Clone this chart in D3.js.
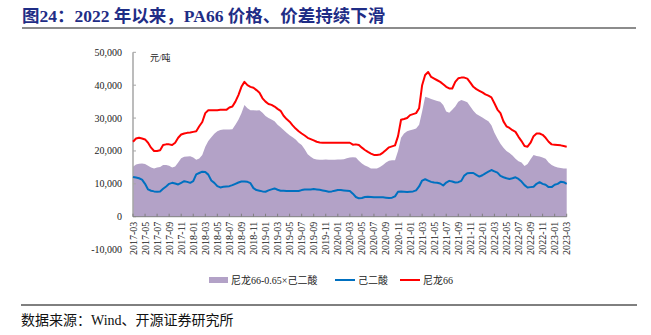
<!DOCTYPE html>
<html>
<head>
<meta charset="utf-8">
<script src="https://cdn.jsdelivr.net/npm/d3@7/dist/d3.min.js"></script>
<style>
  html, body { margin: 0; padding: 0; background: #fff; }
  svg { display: block; }
</style>
</head>
<body>
<svg id="chart" width="651" height="335"></svg>
<script>
// ---- Data (semi-monthly readings, 2017-03 .. 2023-03) ----
const xTickLabels = ["2017-03","2017-05","2017-07","2017-09","2017-11","2018-01","2018-03","2018-05","2018-07","2018-09","2018-11","2019-01","2019-03","2019-05","2019-07","2019-09","2019-11","2020-01","2020-03","2020-05","2020-07","2020-09","2020-11","2021-01","2021-03","2021-05","2021-07","2021-09","2021-11","2022-01","2022-03","2022-05","2022-07","2022-09","2022-11","2023-01","2023-03"];
const yTickValues = [50000, 40000, 30000, 20000, 10000, 0, -10000];
const yTickLabels = ["50,000","40,000","30,000","20,000","10,000","0","-10,000"];

// 尼龙66 (red)
const nylon66 = [
  22800,23800,24000,23800,23500,22500,21000,20000,20000,20200,
  21800,22000,22000,21800,22500,24000,25000,25300,25500,25600,
  25800,26000,27500,28800,31500,32400,32400,32400,32400,32500,
  32500,32500,33200,33500,35000,37000,39500,41000,40000,39500,
  39200,38500,37700,36000,35000,34300,34000,33500,32800,32200,
  30700,29700,28900,27800,26800,26000,25300,24700,24000,23600,
  23200,22800,22600,22500,22500,22500,22500,22500,22500,22500,
  22500,22500,22500,21900,22000,21800,21000,20300,19700,19200,
  18800,18800,18900,19500,20300,21100,21400,21700,24500,29500,
  29700,30000,30900,31200,31500,33000,40000,43100,44000,42500,
  42000,41500,41000,40300,39500,39000,39000,41000,42100,42300,
  42300,42000,40800,39500,38800,38300,37800,37200,36800,36300,
  34500,32600,31500,29000,27500,27000,26300,25800,24300,23000,
  21500,21300,22500,24500,25300,25300,24900,24000,22800,22000,
  21900,21800,21700,21500,21300
];
// 己二酸 (blue)
const adipicAcid = [
  12100,11900,11700,11300,10000,8300,7900,7700,7600,7700,
  8500,9200,10000,10300,10100,9800,10300,10800,10600,10300,
  10800,12900,13300,13700,13600,12800,11000,10300,9300,8900,
  9100,9200,9300,9600,10000,10400,10700,10700,10600,10200,
  8700,8100,7900,7700,7600,8000,8300,8600,8200,7900,
  7900,7800,7800,7800,7800,7800,8100,8300,8300,8300,
  8400,8300,8200,8000,7800,7600,7700,7900,8100,8100,
  8000,7900,7800,7000,6000,5600,5700,6000,6100,6000,
  5900,5900,5900,5900,5800,5700,5800,6200,7600,7700,
  7600,7500,7600,7700,8000,9200,11000,11400,11000,10600,
  10400,10300,10100,9500,10400,10900,10700,10400,10500,10900,
  12500,13200,13300,13300,12700,12200,12600,13200,13700,14200,
  13800,13400,12400,12000,11700,11500,11700,12000,11500,10700,
  9600,8900,9000,9100,10000,10500,10000,9700,9000,9000,
  9700,10000,10600,10500,10000
];
// 尼龙66-0.65×己二酸 (purple area)
const spread = [
  15200,15900,16100,16200,16000,15500,15000,14700,15000,15100,
  15700,15700,15500,15000,15300,16500,17800,18200,18300,18400,
  18000,17300,17700,18800,21300,23000,24200,25200,26000,26400,
  26500,26500,26500,26600,28000,29500,31500,34000,33000,32400,
  32400,32300,32400,31600,30600,30000,29600,29000,28000,27200,
  26400,25500,24800,24200,23500,22500,21800,20500,19000,18200,
  17600,17400,17300,17300,17400,17300,17300,17300,17400,17400,
  17500,17800,18000,18100,18000,17000,16200,15600,15200,14700,
  14700,14700,15100,15700,16500,17000,17200,17200,20000,24000,
  25300,26000,26300,26500,26800,28000,32000,36500,36200,35800,
  35500,35200,35000,34000,32000,31600,32500,33500,35000,35500,
  35200,34800,33500,32200,31200,30700,30200,29600,29000,27800,
  25500,23800,22200,21000,20000,19400,18600,17600,16900,16500,
  15400,16000,17500,18800,18500,18300,18000,17600,16500,15700,
  15300,15000,14800,14700,14700
];
const seriesNames = ["尼龙66-0.65×己二酸", "己二酸", "尼龙66"];
const seriesColors = ["#B3A2C7", "#0070C0", "#FF0000"];

// ---- Drawing ----
const svg = d3.select("#chart");
const serif = "'Liberation Serif','Times New Roman','Noto Sans CJK SC',serif";
const cjk = "'Liberation Serif','Noto Sans CJK SC',sans-serif";

// Title
svg.append("text")
  .attr("x", 22).attr("y", 22)
  .attr("font-family", "'Liberation Serif','Noto Sans CJK SC',serif")
  .attr("font-weight", "bold")
  .attr("font-size", 17.5)
  .attr("fill", "#1F2D86")
  .text("图24：2022 年以来，PA66 价格、价差持续下滑");
svg.append("line")
  .attr("x1", 22).attr("x2", 636).attr("y1", 28).attr("y2", 28)
  .attr("stroke", "#8C8C8C").attr("stroke-width", 2);

const nMonths = (xTickLabels.length - 1) * 2; // 72 months
const x = d3.scaleLinear().domain([0, nMonths]).range([133, 566.7]);
const y = d3.scaleLinear().domain([-10000, 50000]).range([249.6, 52.3]);
const monthOf = (d, i) => i / 2;

// Area
const area = d3.area()
  .x((d, i) => x(monthOf(d, i)))
  .y0(y(0))
  .y1(d => y(d));
svg.append("path").datum(spread)
  .attr("d", area)
  .attr("fill", seriesColors[0]);

// Y axis (line + labels)
svg.append("line")
  .attr("x1", x(0)).attr("x2", x(0))
  .attr("y1", y(50000)).attr("y2", y(0))
  .attr("stroke", "#A6A6A6").attr("stroke-width", 1.5);
svg.append("g").selectAll("line").data(yTickValues.filter(v => v >= 0)).join("line")
  .attr("x1", x(0)).attr("x2", x(0) + 3)
  .attr("y1", d => y(d)).attr("y2", d => y(d))
  .attr("stroke", "#A6A6A6").attr("stroke-width", 1);
svg.append("g").selectAll("text").data(yTickValues).join("text")
  .attr("x", 122)
  .attr("y", d => y(d))
  .attr("dy", "0.35em")
  .attr("text-anchor", "end")
  .attr("font-family", serif)
  .attr("font-size", 10)
  .attr("fill", "#222")
  .text((d, i) => yTickLabels[i]);

// X axis
const xTickVals = xTickLabels.map((l, i) => i * 2);
svg.append("line")
  .attr("x1", x(0)).attr("x2", x(nMonths))
  .attr("y1", y(0)).attr("y2", y(0))
  .attr("stroke", "#7F7F7F").attr("stroke-width", 1);
svg.append("g").selectAll("line").data(xTickVals).join("line")
  .attr("x1", d => x(d)).attr("x2", d => x(d))
  .attr("y1", y(0)).attr("y2", y(0) - 3)
  .attr("stroke", "#7F7F7F").attr("stroke-width", 1);
svg.append("g").selectAll("text").data(xTickVals).join("text")
  .attr("transform", d => `translate(${x(d)},${y(0) + 5}) rotate(-90)`)
  .attr("dy", "0.35em")
  .attr("text-anchor", "end")
  .attr("font-family", serif)
  .attr("font-size", 10)
  .attr("fill", "#222")
  .text((d, i) => xTickLabels[i]);

// Lines
const line = d3.line().x((d, i) => x(monthOf(d, i))).y(d => y(d));
svg.append("path").datum(adipicAcid)
  .attr("d", line).attr("fill", "none")
  .attr("stroke", seriesColors[1]).attr("stroke-width", 2)
  .attr("stroke-linejoin", "round");
svg.append("path").datum(nylon66)
  .attr("d", line).attr("fill", "none")
  .attr("stroke", seriesColors[2]).attr("stroke-width", 2)
  .attr("stroke-linejoin", "round");

// Unit
svg.append("text")
  .attr("x", 150).attr("y", 61)
  .attr("font-family", cjk)
  .attr("font-size", 9)
  .attr("fill", "#222")
  .text("元/吨");

// Legend
const legY = 280;
const leg = svg.append("g").attr("font-family", cjk).attr("font-size", 10).attr("fill", "#222");
leg.append("rect").attr("x", 209).attr("y", legY - 3).attr("width", 19).attr("height", 6).attr("fill", seriesColors[0]);
leg.append("text").attr("x", 231).attr("y", legY).attr("dy", "0.35em").text(seriesNames[0]);
leg.append("line").attr("x1", 335).attr("x2", 355).attr("y1", legY).attr("y2", legY)
  .attr("stroke", seriesColors[1]).attr("stroke-width", 2);
leg.append("text").attr("x", 358).attr("y", legY).attr("dy", "0.35em").text(seriesNames[1]);
leg.append("line").attr("x1", 400).attr("x2", 420).attr("y1", legY).attr("y2", legY)
  .attr("stroke", seriesColors[2]).attr("stroke-width", 2);
leg.append("text").attr("x", 423).attr("y", legY).attr("dy", "0.35em").text(seriesNames[2]);

// Bottom rule + source
svg.append("line")
  .attr("x1", 21).attr("x2", 637).attr("y1", 305).attr("y2", 305)
  .attr("stroke", "#000").attr("stroke-width", 1);
svg.append("text")
  .attr("x", 21).attr("y", 325)
  .attr("font-family", cjk)
  .attr("font-size", 14)
  .attr("fill", "#111")
  .text("数据来源：Wind、开源证券研究所");
</script>
</body>
</html>
